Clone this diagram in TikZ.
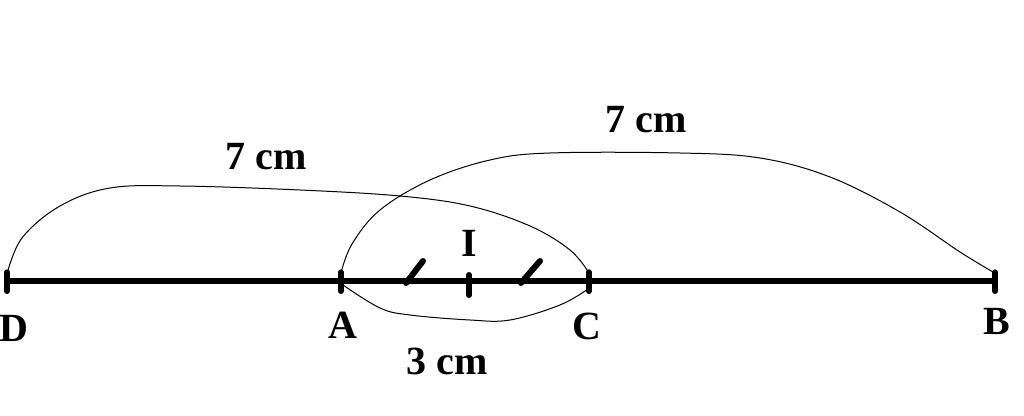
\documentclass[tikz,border=0pt]{standalone}
\usepackage{fontspec}
\setmainfont{Liberation Serif}
\begin{document}
\begin{tikzpicture}[x=0.75pt,y=-0.75pt,
  seg/.style={line width=4.5pt},
  tick/.style={line width=4.5pt,line cap=round},
  arcline/.style={line width=0.75pt},
  lab/.style={font=\bfseries\fontsize{30}{33}\selectfont, inner sep=0pt}]
\useasboundingbox (0,0) rectangle (1024,416);
% points
\coordinate (D) at (7,281);
\coordinate (A) at (341,281);
\coordinate (I) at (469,281);
\coordinate (C) at (589,281);
\coordinate (B) at (995,281);
% main segment
\draw[seg] (D) -- (B);
% ticks
\foreach \p in {D,A,C,B}{\draw[tick] ([yshift=-7.5]\p) -- ([yshift=6.5]\p);}
\draw[tick] ([yshift=-10.5]I) -- ([yshift=4.5]I);
% equal marks
\draw[tick] (406,283) -- (423,261);
\draw[tick] (521,283) -- (540,261);
% arcs
\draw[arcline] plot[smooth,tension=0.6] coordinates {(7,274) (22,238) (60,206) (110,188) (180,186) (300,190) (400,196) (470,206) (530,226) (570,250) (589,273)};
\draw[arcline] plot[smooth,tension=0.6] coordinates {(341,273) (352,244) (380,210) (430,180) (490,160) (550,153) (680,153) (760,158) (830,177) (900,212) (960,252) (993,272)};
\draw[arcline] plot[smooth,tension=0.6] coordinates {(343,285) (380,308) (410,315) (470,320) (510,320) (560,305) (588,289)};
% labels
\node[lab] (lD) at (14,328) {D};
\node[lab] (lA) at (343,325) {A};
\node[lab] (lC) at (587,326) {C};
\node[lab] (lB) at (997,321) {B};
\node[lab] (lI) at (469,243) {I};
\node[lab] (l3) at (447,361) {3 cm};
\node[lab] (l7a) at (266,157) {7 cm};
\node[lab] (l7b) at (646,120) {7 cm};
\end{tikzpicture}
\end{document}
